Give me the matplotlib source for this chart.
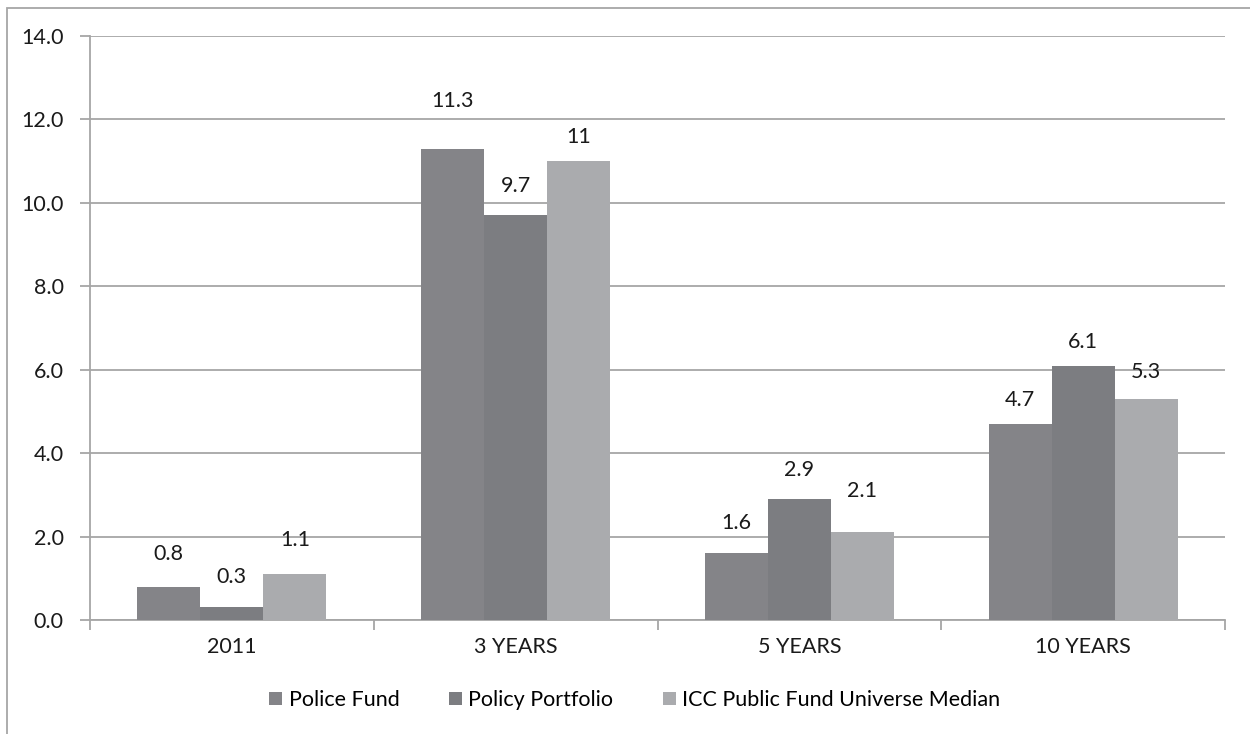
import matplotlib
matplotlib.use("Agg")
import matplotlib.pyplot as plt
from matplotlib.patches import Rectangle, Patch
import numpy as np

plt.rcParams['font.family'] = ['Lato', 'DejaVu Sans']

categories = ["2011", "3 YEARS", "5 YEARS", "10 YEARS"]
series_names = ["Police Fund", "Policy Portfolio", "ICC Public Fund Universe Median"]
police_fund = [0.8, 11.3, 1.6, 4.7]
policy_portfolio = [0.3, 9.7, 2.9, 6.1]
icc_median = [1.1, 11.0, 2.1, 5.3]
yticks = [0, 2, 4, 6, 8, 10, 12, 14]

colors = ["#848488", "#7c7d81", "#aaabae"]
# label offsets above bar top, in pixels (per series, per category)
label_offsets = [[33, 48, 30, 24], [30, 29, 29, 24], [34, 24, 41, 27]]

FS = 15.5
TXT = '#1a1a1a'

fig = plt.figure(figsize=(12.5, 7.34), dpi=100)
ax = fig.add_axes([90/1250, 1-620/734, (1225-90)/1250, (620-36)/734])

series = [police_fund, policy_portfolio, icc_median]
n = len(categories)
x = np.arange(n)
w = 1/4.5
for i, (vals, c) in enumerate(zip(series, colors)):
    xs = x + (i - 1) * w
    ax.bar(xs, vals, width=w, color=c, edgecolor='none', zorder=3)
    for xi, v, off in zip(xs, vals, label_offsets[i]):
        ax.annotate(f"{v:g}", (xi, v), xytext=(0, off * 0.72), textcoords='offset points',
                    ha='center', va='center', fontsize=FS, color=TXT, zorder=4)

ax.set_xlim(-0.5, n - 0.5)
ax.set_ylim(0, 14)
ax.set_yticks(yticks)
ax.set_yticklabels([f"{t:.1f}" for t in yticks], fontsize=FS, color=TXT)
ax.yaxis.grid(True, color='#a6a6a6', linewidth=1.3, zorder=0)
ax.set_axisbelow(True)
ax.set_xticks(x)
ax.set_xticklabels(categories, fontsize=FS, color=TXT)
ax.tick_params(axis='x', length=0, pad=12)
ax.set_xticks(np.arange(-0.5, n, 1), minor=True)
ax.tick_params(axis='x', which='minor', length=7, color='#a6a6a6', width=1.3)
ax.tick_params(axis='y', length=7, color='#a6a6a6', width=1.3, pad=12)
for s in ['top', 'right']:
    ax.spines[s].set_visible(False)
for s in ['left', 'bottom']:
    ax.spines[s].set_color('#a6a6a6')
    ax.spines[s].set_linewidth(1.3)

handles = [Patch(facecolor=c, edgecolor='none') for c in colors]
fig.legend(handles, series_names, loc='center', bbox_to_anchor=(635/1250, 1-700/734),
           ncol=3, frameon=False, fontsize=FS, handlelength=0.6, handleheight=0.6,
           handletextpad=0.3, columnspacing=2.3)

fig.add_artist(Rectangle((7/1250, -0.1), 1.2, 1.1 - 8/734, transform=fig.transFigure,
                         fill=False, edgecolor='#a6a6a6', linewidth=1.3))

fig.savefig("out.png", dpi=100)
